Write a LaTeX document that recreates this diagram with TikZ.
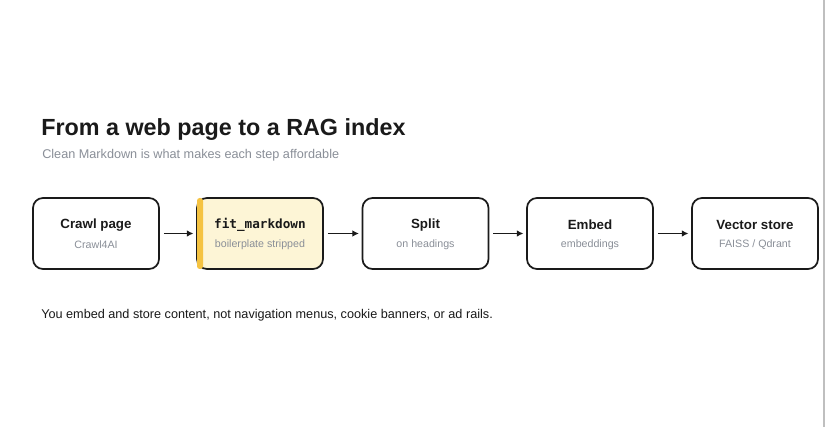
\documentclass[tikz,border=0pt]{standalone}
\usepackage{fontspec}
\setmainfont{Liberation Sans}
\newfontfamily\monof{DejaVu Sans Mono}
\usetikzlibrary{arrows.meta}
\definecolor{ink}{HTML}{1A1A1A}
\definecolor{sub}{HTML}{8A8F98}
\definecolor{hl}{HTML}{FDF5D6}
\definecolor{bar}{HTML}{F5C342}
\begin{document}
\begin{tikzpicture}[x=0.75pt,y=-0.75pt,
  box/.style={draw=ink,line width=1.3pt,rounded corners=7.5pt,minimum width=126*0.75pt,minimum height=71*0.75pt,fill=white},
  ttl/.style={font=\fontsize{10}{12}\selectfont\bfseries,text=ink},
  st/.style={font=\fontsize{8}{10}\selectfont,text=sub},
  arr/.style={-{Latex[length=5pt,width=5pt]},line width=1pt,draw=ink}]
\useasboundingbox (0,0) rectangle (825,427);
\fill[white] (0,0) rectangle (825,427);
\draw[gray!50,line width=0.8pt] (824,0) -- (824,427);
\node[anchor=base west,inner sep=0pt,font=\fontsize{17.5}{20}\selectfont\bfseries,text=ink] (title) at (41,136) {From a web page to a RAG index};
\node[anchor=base west,inner sep=0pt,font=\fontsize{9.5}{11}\selectfont,text=sub] (subt) at (42,159) {Clean Markdown is what makes each step affordable};
\node[box] (b1) at (96,233.5) {};
\node[box,fill=hl] (b2) at (260,233.5) {};
\fill[bar,rounded corners=2pt] (197,198) rectangle (203,269);
\node[box] (b3) at (425.5,233.5) {};
\node[box] (b4) at (590,233.5) {};
\node[box] (b5) at (755,233.5) {};
\foreach \n/\a/\b in {b1/Crawl page/Crawl4AI,b3/Split/on headings,b4/Embed/embeddings,b5/Vector store/{FAISS / Qdrant}}{
  \node[ttl] (\n t) at ([yshift=6.5pt]\n.center) {\a};
  \node[st] (\n s) at ([yshift=-8.5pt]\n.center) {\b};}
\node[font=\monof\fontsize{9.5}{11}\selectfont\bfseries,text=ink] (b2t) at ([yshift=6.5pt]b2.center) {fit\_markdown};
\node[st] (b2s) at ([yshift=-8.5pt]b2.center) {boilerplate stripped};
\draw[arr] ([xshift=3pt]b1.east) -- ([xshift=-2pt]b2.west);
\draw[arr] ([xshift=3pt]b2.east) -- ([xshift=-2pt]b3.west);
\draw[arr] ([xshift=3pt]b3.east) -- ([xshift=-2pt]b4.west);
\draw[arr] ([xshift=3pt]b4.east) -- ([xshift=-2pt]b5.west);
\node[anchor=base west,inner sep=0pt,font=\fontsize{9.5}{11}\selectfont,text=ink] (foot) at (41,319) {You embed and store content, not navigation menus, cookie banners, or ad rails.};
\end{tikzpicture}
\end{document}
